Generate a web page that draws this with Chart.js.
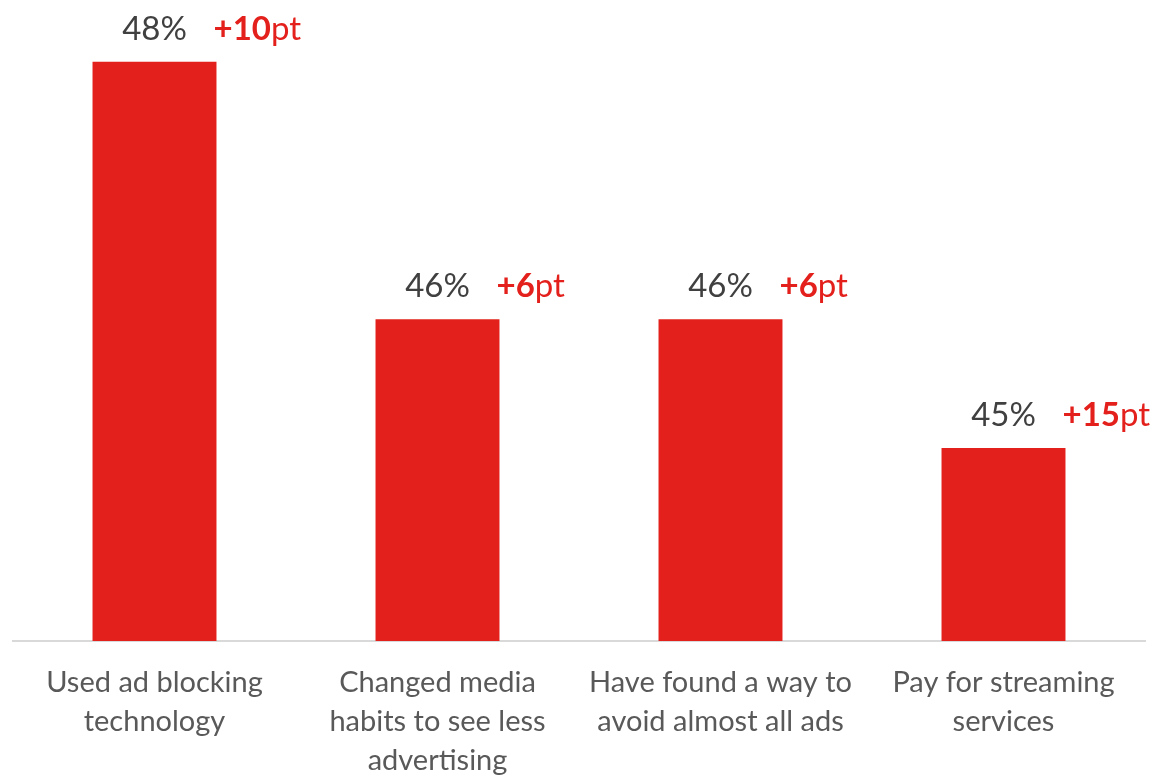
<!DOCTYPE html>
<html>
<head>
<meta charset="utf-8">
<script src="https://cdn.jsdelivr.net/npm/chart.js@4/dist/chart.umd.min.js"></script>
<style>
  html, body { margin: 0; padding: 0; background: #fff; }
  #wrap { width: 1154px; height: 779px; }
</style>
</head>
<body>
<div id="wrap"><canvas id="adChart"></canvas></div>
<script>
const categories = [
    ['Used ad blocking', 'technology'],
    ['Changed media', 'habits to see less', 'advertising'],
    ['Have found a way to', 'avoid almost all ads'],
    ['Pay for streaming', 'services']
];
const shares = [48, 46, 46, 45];
const changes = [10, 6, 6, 15];

const RED = '#E3201B';

// percentage above each bar plus the red "+Npt" change to its right
const barLabels = {
    id: 'barLabels',
    afterDatasetsDraw(chart) {
        const ctx = chart.ctx;
        const meta = chart.getDatasetMeta(0);
        ctx.save();
        ctx.textBaseline = 'alphabetic';
        meta.data.forEach((bar, i) => {
            const y = bar.y - 22;
            ctx.font = '33px Lato';
            ctx.fillStyle = '#404040';
            ctx.textAlign = 'center';
            ctx.fillText(shares[i] + '%', bar.x, y);

            let x = bar.x + 59;
            ctx.textAlign = 'left';
            ctx.fillStyle = RED;
            ctx.font = 'bold 33px Lato';
            const num = '+' + changes[i];
            ctx.fillText(num, x, y);
            x += ctx.measureText(num).width;
            ctx.font = '33px Lato';
            ctx.fillText('pt', x, y);
        });
        ctx.restore();
    }
};

Chart.defaults.font.family = 'Lato';

new Chart(document.getElementById('adChart'), {
    type: 'bar',
    data: {
        labels: categories,
        datasets: [{
            data: shares,
            backgroundColor: RED,
            borderWidth: 0,
            barPercentage: 0.438,
            categoryPercentage: 1
        }]
    },
    options: {
        responsive: true,
        maintainAspectRatio: false,
        animation: false,
        layout: { padding: { top: 0, left: 13, right: 9, bottom: 0 } },
        plugins: {
            legend: { display: false },
            tooltip: { enabled: false }
        },
        scales: {
            x: {
                grid: { display: false, drawTicks: false },
                border: { display: true, color: '#D9D9D9', width: 2 },
                ticks: {
                    color: '#595959',
                    font: { size: 29, lineHeight: 39 / 29 },
                    padding: 22,
                    maxRotation: 0,
                    autoSkip: false
                },
                afterFit(scale) { scale.height = 138; }
            },
            y: {
                display: false,
                min: 43.5,
                max: 48.48
            }
        }
    },
    plugins: [barLabels]
});
</script>
</body>
</html>
